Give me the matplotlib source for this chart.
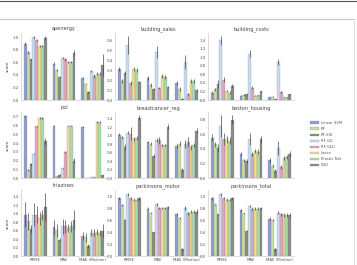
import matplotlib
matplotlib.use("Agg")
import matplotlib.pyplot as plt
from matplotlib.lines import Line2D
import numpy as np

models = ["Linear SVM", "RF", "RF-SID", "RF (Ω)", "RF (Ω1)", "Lasso", "Elastic Net", "SGD"]
metrics = ["RMSE", "MAE", "MAE (Median)"]
colors = ["#909fcf", "#c9dca6", "#8e8c72", "#c8dbf0", "#e3a7bd", "#ebdf90", "#acd9b3", "#8a8a8a"]
datasets = ["apenergy", "building_sales", "building_costs", "pol", "breastcancer_reg",
            "boston_housing", "triazines", "parkinsons_motor", "parkinsons_total"]

apenergy = [[0.90, 0.76, 0.65, 1.00, 0.96, 0.86, 0.86, 0.99],
            [0.58, 0.48, 0.37, 0.67, 0.65, 0.61, 0.61, 0.75],
            [0.35, 0.26, 0.13, 0.46, 0.38, 0.42, 0.42, 0.56]]
apenergy_err = [[0.02, 0.02, 0.01, 0.02, 0.02, 0.02, 0.02, 0.03],
                [0.02, 0.02, 0.01, 0.01, 0.02, 0.02, 0.02, 0.05],
                [0.02, 0.01, 0.02, 0.02, 0.03, 0.02, 0.02, 0.18]]
building_sales = [[0.31, 0.19, 0.27, 0.55, 0.17, 0.31, 0.30, 0.18],
                  [0.22, 0.15, 0.11, 0.48, 0.12, 0.24, 0.23, 0.13],
                  [0.17, 0.11, 0.01, 0.38, 0.06, 0.19, 0.19, 0.10]]
building_sales_err = [[0.02, 0.02, 0.02, 0.09, 0.02, 0.02, 0.02, 0.01],
                      [0.02, 0.02, 0.01, 0.06, 0.01, 0.02, 0.02, 0.01],
                      [0.02, 0.02, 0.01, 0.07, 0.01, 0.02, 0.02, 0.01]]
building_costs = [[0.17, 0.25, 0.37, 1.39, 0.47, 0.21, 0.17, 0.33],
                  [0.10, 0.12, 0.13, 1.08, 0.29, 0.10, 0.11, 0.20],
                  [0.07, 0.08, 0.02, 0.88, 0.18, 0.06, 0.06, 0.13]]
building_costs_err = [[0.03, 0.04, 0.10, 0.10, 0.06, 0.03, 0.03, 0.04],
                      [0.01, 0.02, 0.02, 0.08, 0.03, 0.01, 0.01, 0.02],
                      [0.01, 0.01, 0.01, 0.07, 0.02, 0.01, 0.01, 0.01]]
pol = [[0.71, 0.09, 0.16, 0.28, 0.59, 0.69, 0.69, 0.42],
       [0.60, 0.02, 0.04, 0.11, 0.30, 0.60, 0.60, 0.20],
       [0.58, 0.00, 0.00, 0.01, 0.01, 0.64, 0.64, 0.03]]
pol_err = [[0.01, 0.01, 0.01, 0.01, 0.01, 0.01, 0.01, 0.04],
           [0.01, 0.005, 0.005, 0.01, 0.01, 0.01, 0.01, 0.03],
           [0.01, 0.0, 0.0, 0.0, 0.0, 0.01, 0.01, 0.01]]
breastcancer_reg = [[1.02, 0.96, 0.73, 1.07, 1.04, 0.92, 0.94, 1.42],
                    [0.85, 0.81, 0.51, 0.89, 0.89, 0.77, 0.78, 1.21],
                    [0.75, 0.81, 0.20, 0.80, 0.85, 0.72, 0.78, 1.11]]
breastcancer_reg_err = [[0.03, 0.04, 0.06, 0.04, 0.15, 0.04, 0.04, 0.06],
                        [0.03, 0.03, 0.05, 0.05, 0.08, 0.03, 0.03, 0.06],
                        [0.05, 0.06, 0.04, 0.10, 0.12, 0.05, 0.05, 0.06]]
boston_housing = [[0.55, 0.46, 0.41, 0.71, 0.53, 0.53, 0.51, 0.80],
                  [0.33, 0.24, 0.23, 0.53, 0.33, 0.37, 0.36, 0.53],
                  [0.24, 0.17, 0.10, 0.41, 0.15, 0.27, 0.29, 0.33]]
boston_housing_err = [[0.05, 0.03, 0.05, 0.15, 0.08, 0.05, 0.05, 0.06],
                      [0.03, 0.02, 0.03, 0.08, 0.03, 0.03, 0.03, 0.05],
                      [0.03, 0.02, 0.02, 0.10, 0.03, 0.03, 0.03, 0.04]]
triazines = [[0.98, 0.82, 0.64, 0.98, 0.98, 0.89, 0.98, 1.16],
             [0.68, 0.61, 0.39, 0.70, 0.70, 0.66, 0.70, 0.86],
             [0.48, 0.44, 0.23, 0.55, 0.55, 0.56, 0.55, 0.60]]
triazines_err = [[0.30, 0.20, 0.10, 0.27, 0.20, 0.15, 0.12, 0.33],
                 [0.18, 0.15, 0.03, 0.17, 0.15, 0.10, 0.12, 0.23],
                 [0.10, 0.10, 0.05, 0.08, 0.08, 0.07, 0.07, 0.15]]
parkinsons_motor = [[0.97, 0.86, 0.61, 1.04, 0.97, 0.95, 0.95, 0.97],
                    [0.80, 0.73, 0.40, 0.87, 0.81, 0.81, 0.81, 0.82],
                    [0.70, 0.64, 0.11, 0.81, 0.72, 0.75, 0.75, 0.75]]
parkinsons_motor_err = [[0.02, 0.01, 0.01, 0.02, 0.02, 0.02, 0.02, 0.02],
                        [0.02, 0.01, 0.01, 0.02, 0.02, 0.02, 0.02, 0.02],
                        [0.02, 0.02, 0.02, 0.03, 0.03, 0.03, 0.03, 0.04]]
parkinsons_total = [[0.97, 0.87, 0.70, 1.04, 0.98, 0.95, 0.95, 0.97],
                    [0.77, 0.72, 0.43, 0.84, 0.80, 0.80, 0.80, 0.81],
                    [0.63, 0.61, 0.11, 0.73, 0.70, 0.69, 0.69, 0.69]]
parkinsons_total_err = [[0.02, 0.01, 0.01, 0.02, 0.02, 0.02, 0.02, 0.02],
                        [0.02, 0.01, 0.01, 0.02, 0.02, 0.02, 0.02, 0.02],
                        [0.02, 0.02, 0.02, 0.03, 0.03, 0.03, 0.03, 0.03]]

values = [apenergy, building_sales, building_costs, pol, breastcancer_reg,
          boston_housing, triazines, parkinsons_motor, parkinsons_total]
errors = [apenergy_err, building_sales_err, building_costs_err, pol_err, breastcancer_reg_err,
          boston_housing_err, triazines_err, parkinsons_motor_err, parkinsons_total_err]

plt.rcParams['font.family'] = ['DejaVu Sans']
fig = plt.figure(figsize=(3.57, 2.65), dpi=100)
W, H = 357.0, 265.0
col_left = [21, 115, 208]
col_w = 86
row_top = [33, 112, 190]
row_bot = [100, 178, 256]

# page frame seen around the chart
fig.add_artist(Line2D([0, 1], [1 - 0.5 / H, 1 - 0.5 / H], color="#555555", lw=0.8))
fig.add_artist(Line2D([0, 354 / W], [1 - 19 / H, 1 - 19 / H], color="#c8c8c8", lw=0.8))
fig.add_artist(Line2D([354 / W, 354 / W], [0, 1 - 19 / H], color="#d8d8d8", lw=0.6))

n = len(models)
width = 0.8 / n
x = np.arange(len(metrics))
handles = []
for i, name in enumerate(datasets):
    r, c = divmod(i, 3)
    ax = fig.add_axes([col_left[c] / W, 1 - row_bot[r] / H, col_w / W, (row_bot[r] - row_top[r]) / H])
    v = np.array(values[i])
    e = np.array(errors[i])
    for j in range(n):
        pos = x - 0.4 + width * (j + 0.5)
        b = ax.bar(pos, v[:, j], width, color=colors[j], edgecolor="#777777", linewidth=0.15,
                   label=models[j])
        ax.errorbar(pos, v[:, j], yerr=e[:, j], fmt="none", ecolor="#4a4a4a", elinewidth=0.5, capsize=0)
        if i == 0:
            handles.append(b)
    ax.set_xlim(-0.5, 2.5)
    ax.set_ylim(bottom=0)
    ax.set_title(name, fontsize=3.6, color="#444444", pad=2)
    for s in ["top", "right"]:
        ax.spines[s].set_visible(False)
    for s in ["left", "bottom"]:
        ax.spines[s].set_color("#cccccc")
        ax.spines[s].set_linewidth(0.5)
    ax.tick_params(axis="both", length=0, labelsize=2.8, colors="#555555", pad=1.5)
    ax.set_xticks(x)
    if r == 2:
        ax.set_xticklabels(metrics)
    else:
        ax.set_xticklabels([])
    if c == 0:
        ax.set_ylabel("score", fontsize=3.2, color="#444444", labelpad=2)

leg = fig.legend(handles=handles, labels=models, loc="center", bbox_to_anchor=(326 / W, 1 - 144 / H),
                 fontsize=2.7, frameon=False, handlelength=2.4, handleheight=0.5, borderpad=0.5,
                 labelspacing=0.55, handletextpad=0.6)
for t in leg.get_texts():
    t.set_color("#555555")

fig.savefig("out.png", dpi=100)
